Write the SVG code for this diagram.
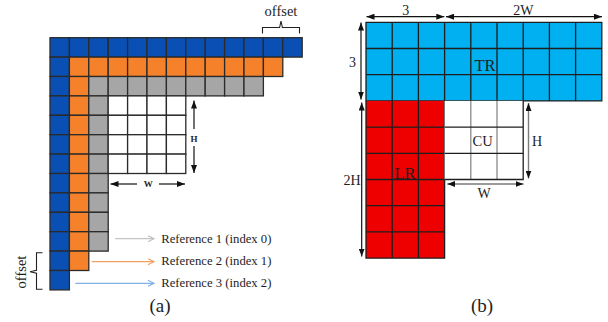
<svg xmlns="http://www.w3.org/2000/svg" xmlns:xlink="http://www.w3.org/1999/xlink" width="608" height="322" viewBox="0 0 608 322">
  <style>
    .t{font-family:"Liberation Serif","Times New Roman",serif;fill:#1e1e1e}
    .blue{fill:#0a50b4}
    .orange{fill:#f5822a}
    .gray{fill:#a6a6a6}
    .white{fill:#ffffff}
    .cellgrp use{stroke:#2a2a2a;stroke-width:1.3}
    .grid{stroke:#1e1e1e;stroke-width:1.3;fill:none}
    .dim{stroke:#111;stroke-width:1.2;fill:none}
    .dimg{stroke:#7a7a7a;stroke-width:1.4;fill:none}
    .brace{stroke:#222;stroke-width:1.1;fill:none}
  </style>
  <defs>
    <rect id="c" width="19.4" height="19.4"/>
    <marker id="tri" markerUnits="userSpaceOnUse" markerWidth="8" markerHeight="6" refX="8" refY="3" orient="auto-start-reverse">
      <path d="M0,0 L8,3 L0,6 z" fill="#111"/>
    </marker>
    <marker id="ah-gray" markerUnits="userSpaceOnUse" markerWidth="8" markerHeight="8" refX="7" refY="4" orient="auto">
      <path d="M1,1 L7,4 L1,7" fill="none" stroke="#bdbdbd" stroke-width="1.2"/>
    </marker>
    <marker id="ah-orange" markerUnits="userSpaceOnUse" markerWidth="8" markerHeight="8" refX="7" refY="4" orient="auto">
      <path d="M1,1 L7,4 L1,7" fill="none" stroke="#f4a060" stroke-width="1.2"/>
    </marker>
    <marker id="ah-blue" markerUnits="userSpaceOnUse" markerWidth="8" markerHeight="8" refX="7" refY="4" orient="auto">
      <path d="M1,1 L7,4 L1,7" fill="none" stroke="#7fb0e8" stroke-width="1.2"/>
    </marker>
  </defs>

  <!-- (a) stacked reference lines -->
  <g id="ref3-blue" class="cellgrp" transform="translate(50,37.7)">
    <use href="#c" class="blue" x="0" y="0"/><use href="#c" class="blue" x="19.4" y="0"/><use href="#c" class="blue" x="38.8" y="0"/><use href="#c" class="blue" x="58.2" y="0"/><use href="#c" class="blue" x="77.6" y="0"/><use href="#c" class="blue" x="97" y="0"/><use href="#c" class="blue" x="116.4" y="0"/><use href="#c" class="blue" x="135.8" y="0"/><use href="#c" class="blue" x="155.2" y="0"/><use href="#c" class="blue" x="174.6" y="0"/><use href="#c" class="blue" x="194" y="0"/><use href="#c" class="blue" x="213.4" y="0"/><use href="#c" class="blue" x="232.8" y="0"/>
    <use href="#c" class="blue" x="0" y="19.4"/><use href="#c" class="blue" x="0" y="38.8"/><use href="#c" class="blue" x="0" y="58.2"/><use href="#c" class="blue" x="0" y="77.6"/><use href="#c" class="blue" x="0" y="97"/><use href="#c" class="blue" x="0" y="116.4"/><use href="#c" class="blue" x="0" y="135.8"/><use href="#c" class="blue" x="0" y="155.2"/><use href="#c" class="blue" x="0" y="174.6"/><use href="#c" class="blue" x="0" y="194"/><use href="#c" class="blue" x="0" y="213.4"/><use href="#c" class="blue" x="0" y="232.8"/>
  </g>
  <g id="ref2-orange" class="cellgrp" transform="translate(50,37.7)">
    <use href="#c" class="orange" x="19.4" y="19.4"/><use href="#c" class="orange" x="38.8" y="19.4"/><use href="#c" class="orange" x="58.2" y="19.4"/><use href="#c" class="orange" x="77.6" y="19.4"/><use href="#c" class="orange" x="97" y="19.4"/><use href="#c" class="orange" x="116.4" y="19.4"/><use href="#c" class="orange" x="135.8" y="19.4"/><use href="#c" class="orange" x="155.2" y="19.4"/><use href="#c" class="orange" x="174.6" y="19.4"/><use href="#c" class="orange" x="194" y="19.4"/><use href="#c" class="orange" x="213.4" y="19.4"/>
    <use href="#c" class="orange" x="19.4" y="38.8"/><use href="#c" class="orange" x="19.4" y="58.2"/><use href="#c" class="orange" x="19.4" y="77.6"/><use href="#c" class="orange" x="19.4" y="97"/><use href="#c" class="orange" x="19.4" y="116.4"/><use href="#c" class="orange" x="19.4" y="135.8"/><use href="#c" class="orange" x="19.4" y="155.2"/><use href="#c" class="orange" x="19.4" y="174.6"/><use href="#c" class="orange" x="19.4" y="194"/><use href="#c" class="orange" x="19.4" y="213.4"/>
  </g>
  <g id="ref1-gray" class="cellgrp" transform="translate(50,37.7)">
    <use href="#c" class="gray" x="38.8" y="38.8"/><use href="#c" class="gray" x="58.2" y="38.8"/><use href="#c" class="gray" x="77.6" y="38.8"/><use href="#c" class="gray" x="97" y="38.8"/><use href="#c" class="gray" x="116.4" y="38.8"/><use href="#c" class="gray" x="135.8" y="38.8"/><use href="#c" class="gray" x="155.2" y="38.8"/><use href="#c" class="gray" x="174.6" y="38.8"/><use href="#c" class="gray" x="194" y="38.8"/>
    <use href="#c" class="gray" x="38.8" y="58.2"/><use href="#c" class="gray" x="38.8" y="77.6"/><use href="#c" class="gray" x="38.8" y="97"/><use href="#c" class="gray" x="38.8" y="116.4"/><use href="#c" class="gray" x="38.8" y="135.8"/><use href="#c" class="gray" x="38.8" y="155.2"/><use href="#c" class="gray" x="38.8" y="174.6"/><use href="#c" class="gray" x="38.8" y="194"/>
  </g>
  <g id="block-a" class="cellgrp" transform="translate(50,37.7)">
    <use href="#c" class="white" x="58.2" y="58.2"/><use href="#c" class="white" x="77.6" y="58.2"/><use href="#c" class="white" x="97" y="58.2"/><use href="#c" class="white" x="116.4" y="58.2"/>
    <use href="#c" class="white" x="58.2" y="77.6"/><use href="#c" class="white" x="77.6" y="77.6"/><use href="#c" class="white" x="97" y="77.6"/><use href="#c" class="white" x="116.4" y="77.6"/>
    <use href="#c" class="white" x="58.2" y="97"/><use href="#c" class="white" x="77.6" y="97"/><use href="#c" class="white" x="97" y="97"/><use href="#c" class="white" x="116.4" y="97"/>
    <use href="#c" class="white" x="58.2" y="116.4"/><use href="#c" class="white" x="77.6" y="116.4"/><use href="#c" class="white" x="97" y="116.4"/><use href="#c" class="white" x="116.4" y="116.4"/>
  </g>

  <!-- (b) neighbouring regions -->
  <g id="TR">
    <rect x="366" y="22.3" width="235.8" height="78.6" fill="#00b0f0"/>
    <path class="grid" d="M366,22.3 H601.8 V100.9 H366 Z M366,48.5 H601.8 M366,74.7 H601.8 M392.2,22.3 V100.9 M418.4,22.3 V100.9 M444.6,22.3 V100.9 M470.8,22.3 V100.9 M497,22.3 V100.9 M523.2,22.3 V100.9 M549.4,22.3 V100.9 M575.6,22.3 V100.9"/>
    <text class="t" x="485" y="71" font-size="16.5" text-anchor="middle">TR</text>
  </g>
  <g id="LR">
    <rect x="366" y="100.9" width="78.6" height="157.2" fill="#ee0000"/>
    <path class="grid" d="M366,100.9 V258.1 H444.6 V100.9 M366,127.1 H444.6 M366,153.3 H444.6 M366,179.5 H444.6 M366,205.7 H444.6 M366,231.9 H444.6 M392.2,100.9 V258.1 M418.4,100.9 V258.1"/>
    <text class="t" x="405" y="178.5" font-size="16.5" text-anchor="middle">LR</text>
  </g>
  <g id="CU">
    <rect x="444.6" y="100.9" width="78.6" height="78.6" fill="#ffffff"/>
    <path d="M470.8,100.9 V179.5 M497,100.9 V179.5" stroke="#8a8a8a" stroke-width="1.3" fill="none"/>
    <path class="grid" d="M444.6,127.1 H523.2 M444.6,153.3 H523.2 M444.6,179.5 H523.2 V100.9"/>
    <text class="t" x="482.7" y="145.7" font-size="14.5" text-anchor="middle">CU</text>
  </g>

  <g id="connectors">
    <!-- (a) dimension arrows -->
    <path class="dim" d="M194,129 V100.5" marker-end="url(#tri)"/>
    <path class="dim" d="M194,146 V173" marker-end="url(#tri)"/>
    <path class="dim" d="M137,184 H110.5" marker-end="url(#tri)"/>
    <path class="dim" d="M159,184 H185" marker-end="url(#tri)"/>
    <!-- (a) reference pointers -->
    <path d="M115,238.7 H154" stroke="#c4c4c4" stroke-width="1.3" fill="none" marker-end="url(#ah-gray)"/>
    <path d="M91.7,261.7 H154" stroke="#f4a060" stroke-width="1.3" fill="none" marker-end="url(#ah-orange)"/>
    <path d="M75.3,283.3 H154" stroke="#7fb0e8" stroke-width="1.3" fill="none" marker-end="url(#ah-blue)"/>
    <!-- (a) offset braces -->
    <path class="brace" d="M262.5,33.5 V27.5 H279.6 L281,21 L282.4,27.5 H299.5 V33.5"/>
    <path class="brace" d="M42.5,252.7 H36.5 V270.3 L30,271.7 L36.5,273.1 V289.3 H42.5"/>
    <!-- (b) dimension arrows -->
    <path class="dim" d="M366.5,16.7 H444.3" marker-start="url(#tri)" marker-end="url(#tri)"/>
    <path class="dim" d="M446,16.7 H602" marker-start="url(#tri)" marker-end="url(#tri)"/>
    <path class="dim" d="M361,22.5 V99.5" marker-start="url(#tri)" marker-end="url(#tri)"/>
    <path class="dim" d="M361.7,102.5 V256.5" marker-start="url(#tri)" marker-end="url(#tri)"/>
    <path class="dimg" d="M528.5,103 V178.5" marker-start="url(#tri)" marker-end="url(#tri)"/>
    <path class="dimg" d="M447.3,184 H523.5" marker-start="url(#tri)" marker-end="url(#tri)"/>
  </g>

  <!-- labels -->
  <g id="labels">
    <text class="t" x="281" y="16" font-size="14.5" text-anchor="middle">offset</text>
    <text class="t" transform="translate(25.5,272) rotate(-90)" font-size="14.5" text-anchor="middle">offset</text>
    <text class="t" x="194" y="141.5" font-size="9" font-weight="bold" text-anchor="middle">H</text>
    <text class="t" x="148.3" y="187.2" font-size="9" font-weight="bold" text-anchor="middle">W</text>
    <text class="t" x="161.2" y="242.6" font-size="12.7">Reference 1 (index 0)</text>
    <text class="t" x="161.2" y="265" font-size="12.7">Reference 2 (index 1)</text>
    <text class="t" x="161.2" y="287.2" font-size="12.7">Reference 3 (index 2)</text>
    <text class="t" x="160" y="311.5" font-size="19" text-anchor="middle">(a)</text>
    <text class="t" x="405.7" y="14.5" font-size="14" text-anchor="middle">3</text>
    <text class="t" x="523.3" y="14.5" font-size="14" text-anchor="middle">2W</text>
    <text class="t" x="352.5" y="67" font-size="14" text-anchor="middle">3</text>
    <text class="t" x="360.5" y="184.5" font-size="14" text-anchor="end">2H</text>
    <text class="t" x="537" y="145.5" font-size="14" text-anchor="middle">H</text>
    <text class="t" x="484" y="198" font-size="14" text-anchor="middle">W</text>
    <text class="t" x="482" y="311.5" font-size="19" text-anchor="middle">(b)</text>
  </g>
</svg>
